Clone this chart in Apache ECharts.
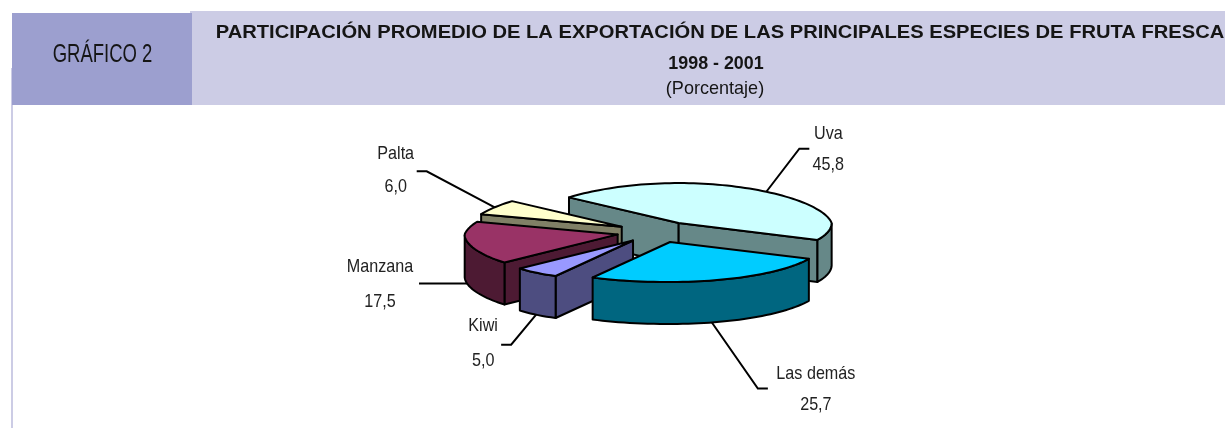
<!DOCTYPE html>
<html><head><meta charset="utf-8">
<style>html,body{margin:0;padding:0;background:#fff}#c{width:1225px;height:428px}</style>
<script src="https://cdn.jsdelivr.net/npm/echarts@6/dist/echarts.min.js"></script>
</head><body><div id="c"></div>
<script>
// ---- data ----
const categories = ['Uva', 'Las demás', 'Kiwi', 'Manzana', 'Palta'];
const shares = [45.8, 25.7, 5.0, 17.5, 6.0];
const shareLabels = ['45,8', '25,7', '5,0', '17,5', '6,0'];
const topColors = ['#CCFFFF', '#00CCFF', '#9999FF', '#993366', '#FFFFCC'];
const wallColors = ['#668888', '#006680', '#4D4D80', '#4D1A33', '#808066'];
const paintOrder = [0, 4, 3, 2, 1];
// ---- layout ----
const PIE = {cx: 657, cy: 232, rx: 153, ry: 40, depth: 42, start: -50, explode: 0.264, perspBack: 0.1, perspFront: 0.16};
// [anchor angle shift, use bottom edge, elbow dx, elbow dy, tail dx, label dx, name dy, value dy]
const LEADERS = [
  [6, 0, 33, -43, 10, 62, -58, -27],
  [3, 1, 46, 66, 10, 104, 51, 82],
  [0, 1, -25, 30, -10, -53, 11, 46],
  [3, 1, -48, 0, 0, -87, -17, 18],
  [0, 0, -68, -36, -10, -99, -54, -21]
];
const SANS = '"Liberation Sans",Arial,sans-serif';
const TOTAL = shares.reduce((a, b) => a + b, 0);
const rad = d => d * Math.PI / 180;

function renderSlice(params, api) {
  const i = params.dataIndex;
  let before = 0;
  for (let k = 0; k < i; k++) before += shares[k];
  const value = api.value(0);
  const t0 = PIE.start + before / TOTAL * 360;
  const t1 = t0 + value / TOTAL * 360;
  const mid = (t0 + t1) / 2;
  const ax = PIE.cx + PIE.explode * PIE.rx * Math.sin(rad(mid));
  const ay = PIE.cy - PIE.explode * PIE.ry * Math.cos(rad(mid));
  const P = t => {
    const s = Math.sin(rad(t)), c = Math.cos(rad(t));
    let f = 1;
    if (c > 0) f = 1 - PIE.perspBack * c;
    else if (s < 0) f = 1 + PIE.perspFront * c * c * c * c;
    return [ax + PIE.rx * s * f, ay - PIE.ry * c];
  };
  const outline = [[ax, ay]];
  const steps = Math.max(8, Math.round((t1 - t0) / 2));
  for (let s = 0; s <= steps; s++) outline.push(P(t0 + (t1 - t0) * s / steps));
  const base = paintOrder[i] * 100 + 10;
  const style = (fill) => ({fill, stroke: '#000', lineWidth: 2, lineJoin: 'round'});
  const children = [];
  const flat = (a, b) => [a, b, [b[0], b[1] + PIE.depth], [a[0], a[1] + PIE.depth]];
  const n = outline.length;
  const addFace = (pts, z) => children.push({type: 'polygon', shape: {points: pts}, style: style(wallColors[i]), z2: base + z, silent: true});
  if (outline[1][0] < ax) addFace(flat(outline[0], outline[1]), 1);
  if (outline[n - 1][0] > ax) addFace(flat(outline[n - 1], outline[0]), 1);
  let run = [];
  const flush = () => {
    if (run.length > 1) {
      const lower = run.slice().reverse().map(p => [p[0], p[1] + PIE.depth]);
      addFace(run.concat(lower), 2);
    }
    run = [];
  };
  for (let k = 1; k < n - 1; k++) {
    if (outline[k + 1][0] < outline[k][0]) {
      if (!run.length) run.push(outline[k]);
      run.push(outline[k + 1]);
    } else flush();
  }
  flush();
  children.push({type: 'polygon', shape: {points: outline}, style: style(topColors[i]), z2: base + 5, silent: true});
  // leader + label
  const L = LEADERS[i];
  const an = P(mid + L[0]);
  const bx = an[0], by = an[1] + (L[1] ? PIE.depth : 0);
  const ex = bx + L[2], ey = by + L[3];
  children.push({type: 'polyline', shape: {points: [[bx, by], [ex, ey], [ex + L[4], ey]]},
    style: {fill: null, stroke: '#000', lineWidth: 2}, z2: 1, silent: true});
  const txt = (s, x, y) => ({type: 'text', x, y, scaleX: 0.85, style: {text: s, x: 0, y: 0, fill: '#222', font: '19px ' + SANS, textAlign: 'center', textVerticalAlign: 'middle'}, z2: 1, silent: true});
  children.push(txt(categories[i], bx + L[5], by + L[6]));
  children.push(txt(shareLabels[i], bx + L[5], by + L[7]));
  return {type: 'group', children};
}

const headText = (text, x, y, size, weight, sx) => ({
  type: 'text', x, y, scaleX: sx, z: 1, silent: true,
  style: {text, x: 0, y: 0, fill: '#151515', font: weight + ' ' + size + 'px ' + SANS, textAlign: 'center', textVerticalAlign: 'middle'}
});

const chart = echarts.init(document.getElementById('c'), null, {renderer: 'canvas'});
chart.setOption({
  animation: false,
  backgroundColor: '#fff',
  graphic: [
    {type: 'rect', shape: {x: 190, y: 11, width: 1035, height: 94}, style: {fill: '#CCCCE5'}, z: -1, silent: true},
    {type: 'rect', shape: {x: 11, y: 68, width: 2, height: 360}, style: {fill: '#CCCCE5'}, z: -1, silent: true},
    {type: 'rect', shape: {x: 12, y: 13, width: 180, height: 92}, style: {fill: '#9C9FCF'}, z: 0, silent: true},
    headText('GRÁFICO 2', 102.5, 55, 25, 'normal', 0.74),
    headText('PARTICIPACIÓN PROMEDIO DE LA EXPORTACIÓN DE LAS PRINCIPALES ESPECIES DE FRUTA FRESCA', 720, 33, 19, 'bold', 1.06),
    headText('1998 - 2001', 716, 64, 19, 'bold', 0.94),
    headText('(Porcentaje)', 715, 89, 19, 'normal', 0.95)
  ],
  series: [{
    type: 'custom',
    coordinateSystem: 'none',
    renderItem: renderSlice,
    data: shares.map((v, i) => ({name: categories[i], value: [v]}))
  }]
});
</script></body></html>
